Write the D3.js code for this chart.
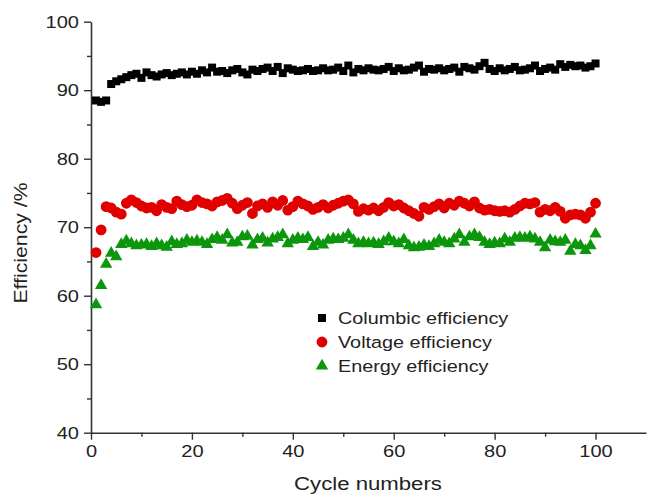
<!DOCTYPE html>
<html>
<head>
<meta charset="utf-8">
<script src="https://cdn.jsdelivr.net/npm/d3@7.9.0/dist/d3.min.js"></script>
<style>
  html, body { margin: 0; padding: 0; background: #fff; }
  svg { display: block; font-family: "Liberation Sans", Arial, sans-serif; }
</style>
</head>
<body>
<svg id="chart" width="647" height="496"></svg>
<script>
// cycle 1..100
const cycles = d3.range(1, 101);

const columbic = [
  88.5, 88.3, 88.5, 90.9, 91.3, 91.6, 91.9, 92.2, 92.4, 91.8,
  92.6, 92.2, 92.0, 92.3, 92.5, 92.2, 92.4, 92.6, 92.3, 92.7,
  92.4, 92.9, 92.6, 93.3, 92.7, 92.8, 92.5, 92.9, 93.1, 92.6,
  92.3, 93.0, 92.8, 93.1, 93.3, 92.8, 93.4, 92.5, 93.2, 93.0,
  92.8, 92.9, 93.1, 92.8, 92.9, 93.2, 92.9, 93.0, 93.3, 92.8,
  93.6, 92.6, 93.1, 92.9, 93.2, 93.0, 92.9, 93.1, 93.4, 92.8,
  93.2, 92.9, 93.0, 93.3, 93.6, 92.7, 93.1, 93.0, 93.2, 92.9,
  93.1, 93.3, 92.7, 93.4, 93.2, 93.0, 93.5, 94.0, 93.1, 92.8,
  93.2, 92.9, 93.1, 93.4, 92.9, 93.0, 93.2, 93.6, 92.8, 93.1,
  93.3, 93.0, 93.8, 93.4, 93.7, 93.5, 93.6, 93.3, 93.5, 93.9
];

const voltage = [
  66.3, 69.6, 73.0, 72.8, 72.2, 71.9, 73.5, 74.0, 73.6, 73.1,
  72.8, 72.9, 72.4, 73.3, 72.9, 72.7, 73.8, 73.3, 73.0, 73.2,
  74.0, 73.6, 73.4, 73.1, 73.7, 73.9, 74.2, 73.5, 72.7, 73.2,
  73.6, 72.0, 73.1, 73.4, 72.9, 73.7, 73.2, 73.9, 72.5, 73.0,
  73.8, 73.4, 73.1, 72.6, 72.9, 73.3, 72.8, 73.2, 73.5, 73.8,
  74.0, 73.4, 72.3, 72.7, 72.5, 72.8, 72.4, 72.9, 73.6, 73.1,
  73.3, 72.8, 72.4, 72.0, 71.6, 72.9, 72.6, 73.0, 73.4, 72.8,
  73.5, 73.2, 73.8, 73.5, 73.1, 73.7, 72.8, 72.5, 72.6, 72.4,
  72.3, 72.4, 72.2, 72.6, 73.1, 73.5, 73.4, 73.6, 72.2, 72.6,
  72.4, 72.9, 72.3, 71.3, 71.8, 71.9, 71.8, 71.3, 72.2, 73.5
];

const energy = [
  58.7, 61.5, 64.6, 66.2, 65.7, 67.5, 68.0, 67.6, 67.3, 67.4,
  67.5, 67.2, 67.6, 67.3, 67.1, 67.9, 67.5, 67.6, 68.1, 67.8,
  68.0, 67.8, 67.5, 68.2, 68.5, 68.1, 68.9, 67.7, 67.8, 68.6,
  68.7, 67.4, 68.2, 68.4, 67.7, 68.3, 68.5, 68.9, 67.6, 68.1,
  68.4, 68.2, 68.5, 67.2, 67.8, 67.4, 68.1, 68.3, 68.2, 68.4,
  68.9, 68.1, 67.6, 67.8, 67.6, 67.7, 67.5, 67.9, 68.4, 67.9,
  67.6, 68.2, 67.3, 67.0, 67.1, 67.4, 67.2, 67.6, 68.1, 67.8,
  67.6, 68.3, 68.9, 67.8, 68.6, 68.9, 68.5, 67.8, 67.5, 67.7,
  67.6, 68.3, 67.8, 68.4, 68.5, 68.4, 68.6, 68.3, 67.8, 67.0,
  68.1, 67.9, 67.8, 68.1, 66.5, 67.5, 67.3, 66.6, 67.3, 69.0
];

const seriesNames = ['Columbic efficiency', 'Voltage efficiency', 'Energy efficiency'];
const xTicks = [0, 20, 40, 60, 80, 100];
const yTicks = [40, 50, 60, 70, 80, 90, 100];

const STRETCH = 1.18; // labels in the figure are wide
const svg = d3.select('#chart');

const x = d3.scaleLinear().domain([0, 110]).range([91, 646]);
const y = d3.scaleLinear().domain([40, 100]).range([432.7, 21.7]);

const colors = ['#000000', '#e00000', '#0c960c'];
const shapes = [
  d3.symbol().type(d3.symbolSquare).size(64),
  d3.symbol().type(d3.symbolCircle).size(92),
  d3.symbol().type(d3.symbolTriangle).size(66)
];

// axes
const axisColor = '#333';
const gx = svg.append('g').attr('transform', `translate(0,${y(40)})`);
gx.call(d3.axisBottom(x).tickValues(xTicks).tickSize(7).tickSizeOuter(0).tickPadding(5));
gx.append('g').call(d3.axisBottom(x).tickValues([10, 30, 50, 70, 90]).tickSize(4).tickFormat(''))
  .select('.domain').remove();

const gy = svg.append('g').attr('transform', `translate(${x(0)},0)`);
gy.call(d3.axisLeft(y).tickValues(yTicks).tickSize(7).tickSizeOuter(0).tickPadding(5));
gy.append('g').call(d3.axisLeft(y).tickValues([45, 55, 65, 75, 85, 95]).tickSize(4).tickFormat(''))
  .select('.domain').remove();

svg.selectAll('.domain').attr('stroke', axisColor).attr('stroke-width', 1.6);
svg.selectAll('.tick line').attr('stroke', axisColor).attr('stroke-width', 1.4);

gx.selectAll('.tick text')
  .attr('font-size', 17).attr('fill', '#222')
  .attr('font-family', '"Liberation Sans", Arial, sans-serif')
  .attr('transform', `scale(${STRETCH},1)`);
gy.selectAll('.tick text')
  .attr('font-size', 17).attr('fill', '#222')
  .attr('font-family', '"Liberation Sans", Arial, sans-serif')
  .attr('x', -12 / STRETCH)
  .attr('transform', `scale(${STRETCH},1)`);

// axis titles
svg.append('text')
  .attr('transform', `translate(368,490) scale(${STRETCH},1)`)
  .attr('text-anchor', 'middle')
  .attr('font-size', 18.8).attr('fill', '#222')
  .text('Cycle numbers');

svg.append('text')
  .attr('transform', `translate(27,243) rotate(-90) scale(${STRETCH},1)`)
  .attr('text-anchor', 'middle')
  .attr('font-size', 18).attr('fill', '#222')
  .text('Efficiency /%');

// points
[columbic, voltage, energy].forEach((vals, i) => {
  svg.append('g')
    .selectAll('path')
    .data(vals)
    .join('path')
    .attr('d', shapes[i])
    .attr('transform', (d, j) => `translate(${x(cycles[j])},${y(d)})`)
    .attr('fill', colors[i]);
});

// legend
const legend = svg.append('g');
seriesNames.forEach((name, i) => {
  const ly = 318 + i * 24;
  legend.append('path')
    .attr('d', shapes[i])
    .attr('transform', `translate(322,${ly})`)
    .attr('fill', colors[i]);
  legend.append('text')
    .attr('transform', `translate(338,${ly + 6}) scale(${STRETCH},1)`)
    .attr('font-size', 16.8).attr('fill', '#222')
    .text(name);
});
</script>
</body>
</html>
